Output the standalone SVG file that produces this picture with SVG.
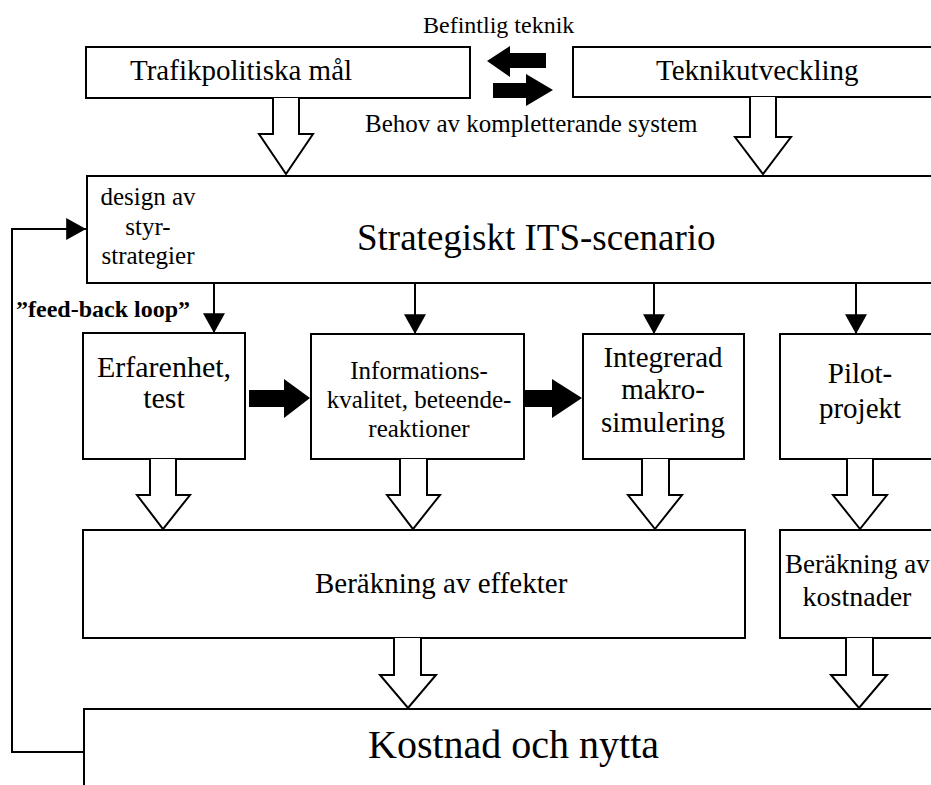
<svg xmlns="http://www.w3.org/2000/svg" width="931" height="785" viewBox="0 0 931 785">
<style>
.box{fill:#fff;stroke:#000;stroke-width:2}
.t{font-family:"Liberation Serif","Times New Roman",serif;fill:#000}
.c{text-anchor:middle}
.hollow{fill:#fff;stroke:#000;stroke-width:2;stroke-linejoin:miter}
.solid{fill:#000;stroke:none}
.ln{fill:none;stroke:#000;stroke-width:2}
</style>
<defs>
<marker id="ah" markerUnits="userSpaceOnUse" markerWidth="22" markerHeight="22" viewBox="0 0 18 20" refX="18" refY="10" orient="auto">
<path d="M0,0 L18,10 L0,20 Z" fill="#000"/>
</marker>
</defs>
<rect width="931" height="785" fill="#fff"/>

<g id="trafikpolitiska">
<rect class="box" x="86" y="47" width="384" height="51"/>
<text class="t" x="130" y="80" font-size="29">Trafikpolitiska mål</text>
</g>
<g id="teknikutveckling">
<rect class="box" x="573" y="47" width="370" height="50"/>
<text class="t" x="656" y="80" font-size="29">Teknikutveckling</text>
</g>
<g id="strategiskt">
<rect class="box" x="87" y="176" width="860" height="107"/>
<text class="t" x="357" y="250" font-size="37">Strategiskt ITS-scenario</text>
<text class="t c" x="148" y="205" font-size="25">design av</text>
<text class="t c" x="148" y="235" font-size="25">styr-</text>
<text class="t c" x="148" y="264" font-size="25">strategier</text>
</g>
<g id="erfarenhet">
<rect class="box" x="83" y="333" width="162" height="126"/>
<text class="t c" x="164" y="377" font-size="30">Erfarenhet,</text>
<text class="t c" x="164" y="408" font-size="30">test</text>
</g>
<g id="informations">
<rect class="box" x="311" y="334" width="213" height="125"/>
<text class="t c" x="419" y="379" font-size="25">Informations-</text>
<text class="t c" x="419" y="408" font-size="25">kvalitet, beteende-</text>
<text class="t c" x="419" y="437" font-size="25">reaktioner</text>
</g>
<g id="integrerad">
<rect class="box" x="583" y="334" width="161" height="125"/>
<text class="t c" x="663" y="367" font-size="29">Integrerad</text>
<text class="t c" x="663" y="399" font-size="29">makro-</text>
<text class="t c" x="663" y="432" font-size="29">simulering</text>
</g>
<g id="pilot">
<rect class="box" x="780" y="334" width="170" height="125"/>
<text class="t c" x="860" y="383" font-size="29">Pilot-</text>
<text class="t c" x="860" y="418" font-size="29">projekt</text>
</g>
<g id="effekter">
<rect class="box" x="83" y="530" width="662" height="108"/>
<text class="t" x="315" y="593" font-size="29">Beräkning av effekter</text>
</g>
<g id="kostnader">
<rect class="box" x="780" y="530" width="170" height="108"/>
<text class="t" x="785" y="573" font-size="27">Beräkning av</text>
<text class="t c" x="857" y="606" font-size="28">kostnader</text>
</g>
<g id="kostnad-nytta">
<rect class="box" x="84" y="709" width="870" height="100"/>
<text class="t" x="368" y="758" font-size="40">Kostnad och nytta</text>
</g>

<g id="labels">
<text class="t" x="423" y="33" font-size="24">Befintlig teknik</text>
<text class="t" x="365" y="132" font-size="25">Behov av kompletterande system</text>
<text class="t" x="16" y="317" font-size="24" font-weight="bold">”feed-back loop”</text>
</g>

<g id="connectors">
<path class="solid" d="M546,53 L510,53 L510,46 L487,61 L510,77 L510,68 L546,68 Z"/>
<path class="solid" d="M493,83 L526,83 L526,74 L553,90 L526,106 L526,98 L493,98 Z"/>
<path class="hollow" d="M273,98 L273,134 L259,134 L286,174 L313,134 L299,134 L299,98"/>
<path class="hollow" d="M750,97 L750,137 L735,137 L763,174 L791,137 L776,137 L776,97"/>
<path class="hollow" d="M150,459 L150,495 L137,495 L163,529 L190,495 L176,495 L176,459"/>
<path class="hollow" d="M400,459 L400,495 L387,495 L413,529 L440,495 L427,495 L427,459"/>
<path class="hollow" d="M642,459 L642,495 L628,495 L655,529 L682,495 L669,495 L669,459"/>
<path class="hollow" d="M847,459 L847,495 L833,495 L860,529 L887,495 L873,495 L873,459"/>
<path class="hollow" d="M394,638 L394,675 L380,675 L408,708 L436,675 L421,675 L421,638"/>
<path class="hollow" d="M846,638 L846,675 L831,675 L859,708 L887,675 L873,675 L873,638"/>
<line class="ln" x1="214" y1="283" x2="214" y2="333" marker-end="url(#ah)"/>
<line class="ln" x1="415" y1="283" x2="415" y2="334" marker-end="url(#ah)"/>
<line class="ln" x1="654" y1="283" x2="654" y2="334" marker-end="url(#ah)"/>
<line class="ln" x1="856" y1="283" x2="856" y2="334" marker-end="url(#ah)"/>
<path class="solid" d="M249,390 L284,390 L284,379 L310,398 L284,418 L284,407 L249,407 Z"/>
<path class="solid" d="M524,390 L552,390 L552,379 L582,398 L552,418 L552,407 L524,407 Z"/>
<polyline class="ln" points="84,752 12,752 12,229 86,229" marker-end="url(#ah)"/>
</g>
</svg>
